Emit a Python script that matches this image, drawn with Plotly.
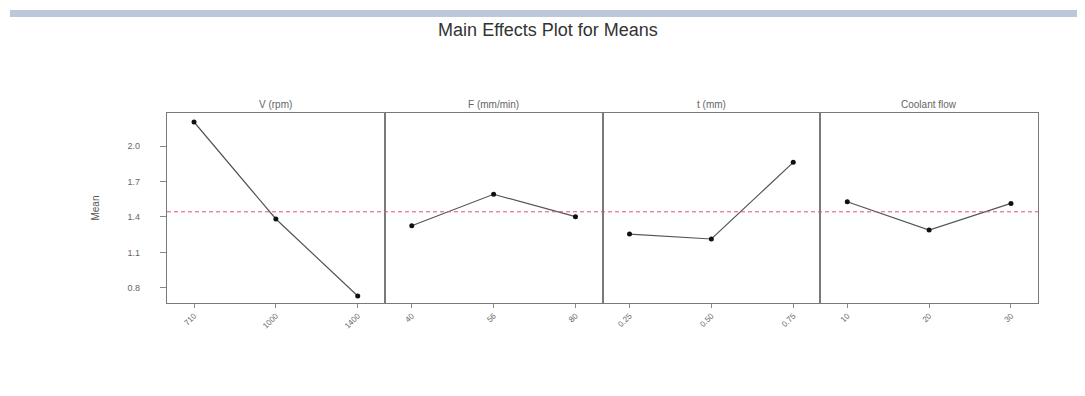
import plotly.graph_objects as go
from plotly.subplots import make_subplots

factors = ["V (rpm)", "F (mm/min)", "t (mm)", "Coolant flow"]
levels_v = ["710", "1000", "1400"]
levels_f = ["40", "56", "80"]
levels_t = ["0.25", "0.50", "0.75"]
levels_c = ["10", "20", "30"]
means_v = [2.203, 1.383, 0.732]
means_f = [1.326, 1.592, 1.403]
means_t = [1.256, 1.214, 1.862]
means_c = [1.529, 1.290, 1.515]
grand_mean = 1.444
y_ticks = [0.8, 1.1, 1.4, 1.7, 2.0]

levels = [levels_v, levels_f, levels_t, levels_c]
means = [means_v, means_f, means_t, means_c]

W, H = 1077, 388
L, R, T, B = 159, 47, 105, 93
PW, PH = W - L - R, H - T - B

fig = make_subplots(rows=1, cols=4, shared_yaxes=True, horizontal_spacing=0,
                    subplot_titles=factors)

for i, (lv, mv) in enumerate(zip(levels, means)):
    fig.add_trace(go.Scatter(
        x=list(range(len(lv))), y=mv, mode="lines+markers",
        line=dict(color="#555555", width=1.2),
        marker=dict(color="#111111", size=5),
        showlegend=False), row=1, col=i + 1)
    fig.update_xaxes(tickvals=list(range(len(lv))), ticktext=lv,
                     range=[-0.33, 2.33], row=1, col=i + 1)

fig.update_xaxes(showgrid=False, zeroline=False, showline=True, mirror=True,
                 linecolor="#7a7a7a", linewidth=1.2, ticks="outside", ticklen=4,
                 tickcolor="#888888", tickangle=-45,
                 tickfont=dict(size=8, color="#666666", family="Arial"))
fig.update_yaxes(showgrid=False, zeroline=False, showline=True, mirror=True,
                 linecolor="#7a7a7a", linewidth=1.2, range=[0.673, 2.279],
                 tickvals=y_ticks, ticktext=[f"{t:.1f}" for t in y_ticks],
                 tickfont=dict(size=9, color="#666666", family="Arial"))
fig.update_yaxes(ticks="outside", ticklen=6, tickcolor="#888888",
                 ticklabelstandoff=18,
                 title=dict(text="Mean", font=dict(size=10, color="#555555", family="Arial"),
                            standoff=26),
                 row=1, col=1)

for ann in fig.layout.annotations:
    ann.font = dict(size=10, color="#666666", family="Arial")
    ann.yshift = 1

fig.add_shape(type="line", xref="paper", yref="y", x0=0, x1=1,
              y0=grand_mean, y1=grand_mean,
              line=dict(color="#e0507a", width=1, dash="4px,3px"))

fig.add_shape(type="rect", xref="paper", yref="paper",
              x0=(2 - L) / PW, x1=(W - L) / PW,
              y0=1 + (T - 9) / PH, y1=1 + (T - 2) / PH,
              fillcolor="#bcc8da", line=dict(width=0), layer="below")

fig.update_layout(
    width=W, height=H,
    margin=dict(l=L, r=R, t=T, b=B),
    paper_bgcolor="white", plot_bgcolor="white",
    title=dict(text="Main Effects Plot for Means",
               x=(540 - L) / PW, xref="paper", xanchor="center",
               y=1 - 22 / H, yanchor="middle",
               font=dict(size=18, color="#333333", family="Arial")),
)

fig.write_html("out.html")
